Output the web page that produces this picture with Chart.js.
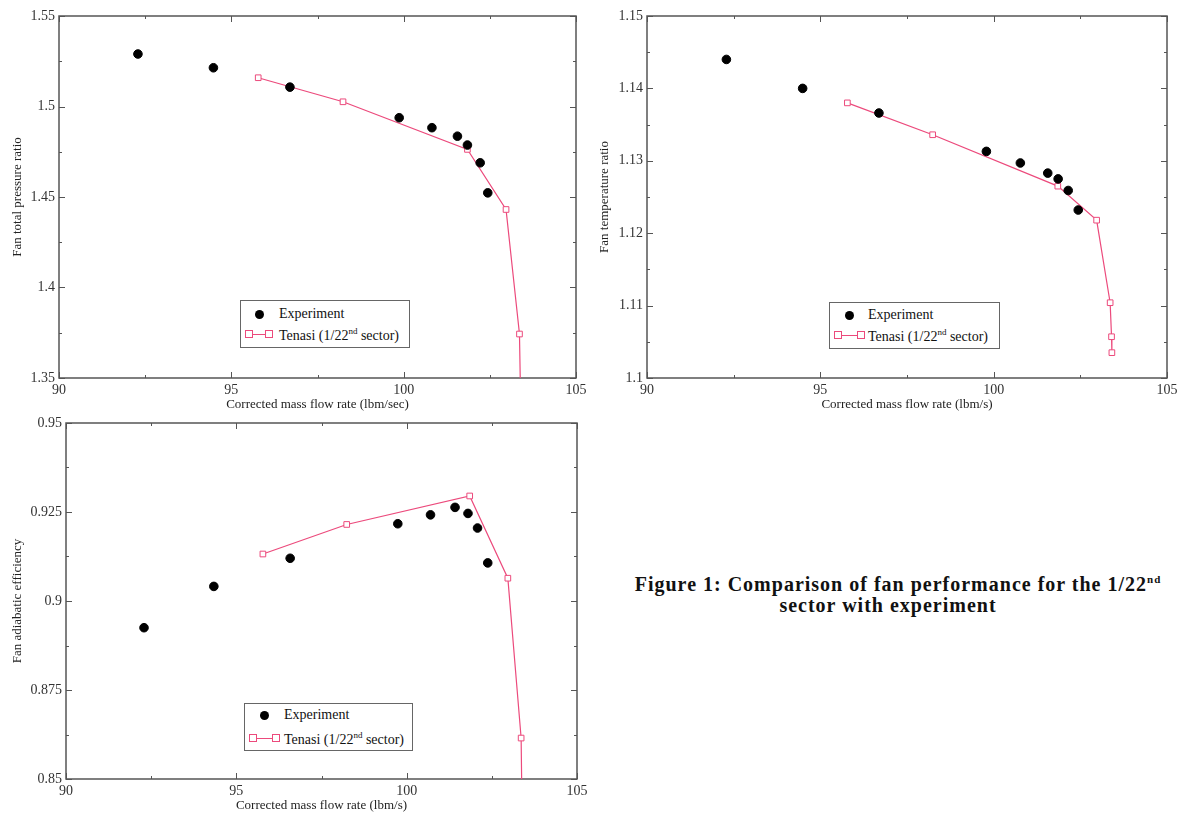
<!DOCTYPE html>
<html>
<head>
<meta charset="utf-8">
<script src="https://cdn.jsdelivr.net/npm/chart.js@4/dist/chart.umd.min.js"></script>
<style>
  body { margin: 0; background: #fff; width: 1181px; height: 814px; position: relative; overflow: hidden; }
  canvas { position: absolute; }
  .legend { position: absolute; border: 1px solid #666; background: #fff;
            font: 14px "Liberation Serif", "DejaVu Serif", serif; color: #111; }
  .legend span { position: absolute; white-space: nowrap; }
  .legend .dot { width: 9px; height: 9px; border-radius: 50%; background: #000; }
  .legend .sq { width: 6px; height: 6px; border: 1px solid #ec4a7c; background: #fff; }
  .legend .ln { height: 1px; background: #ec4a7c; }
  .legend sup { font-size: 9px; }
  #caption { position: absolute; left: 612px; top: 569px; width: 572px; text-align: center;
             font: bold 20px "Liberation Serif", "DejaVu Serif", serif; line-height: 21px;
             letter-spacing: 1px; color: #111; }
  #caption sup { font-size: 11px; }
</style>
</head>
<body>
<canvas id="c1" width="590" height="416" style="left:0;top:0"></canvas>
<canvas id="c2" width="591" height="416" style="left:590px;top:0"></canvas>
<canvas id="c3" width="590" height="400" style="left:0;top:414px"></canvas>

<div class="legend" style="left:240px;top:300px;width:168px;height:46px">
  <span class="dot" style="left:14px;top:9px"></span>
  <span style="left:38px;top:5px">Experiment</span>
  <span class="ln" style="left:11px;top:33px;width:18px"></span>
  <span class="sq" style="left:4px;top:29px"></span>
  <span class="sq" style="left:24px;top:29px"></span>
  <span style="left:38px;top:25px">Tenasi (1/22<sup>nd</sup> sector)</span>
</div>
<div class="legend" style="left:829px;top:302px;width:169px;height:45px">
  <span class="dot" style="left:15px;top:8px"></span>
  <span style="left:38px;top:4px">Experiment</span>
  <span class="ln" style="left:12px;top:32px;width:20px"></span>
  <span class="sq" style="left:4px;top:28px"></span>
  <span class="sq" style="left:27px;top:28px"></span>
  <span style="left:38px;top:24px">Tenasi (1/22<sup>nd</sup> sector)</span>
</div>
<div class="legend" style="left:244px;top:703px;width:167px;height:46px">
  <span class="dot" style="left:15px;top:7px"></span>
  <span style="left:39px;top:3px">Experiment</span>
  <span class="ln" style="left:11px;top:34px;width:22px"></span>
  <span class="sq" style="left:4px;top:30px"></span>
  <span class="sq" style="left:27px;top:30px"></span>
  <span style="left:39px;top:26px">Tenasi (1/22<sup>nd</sup> sector)</span>
</div>

<div id="caption">Figure 1: Comparison of fan performance for the 1/22<sup>nd</sup><br><span style="margin-right:20px">sector with experiment</span></div>

<script>
// experiment
const flowExpP = [92.29, 94.48, 96.70, 99.87, 100.82, 101.56, 101.85, 102.22, 102.44];
const pressureExp = [1.529, 1.5214, 1.5107, 1.4938, 1.4883, 1.4836, 1.4787, 1.4689, 1.4523];

const flowExpT = [92.29, 94.49, 96.69, 99.79, 100.77, 101.56, 101.86, 102.15, 102.44];
const tempExp = [1.1440, 1.1400, 1.1366, 1.1313, 1.1297, 1.1283, 1.1275, 1.1259, 1.1232];

const flowExpE = [92.29, 94.34, 96.58, 99.74, 100.70, 101.42, 101.80, 102.08, 102.38];
const effExp = [0.8925, 0.9041, 0.9120, 0.9217, 0.9242, 0.9263, 0.9246, 0.9205, 0.9107];

// Tenasi 1/22nd sector (last points fall below the first and third panels)
const flowTenasi = [95.78, 98.24, 101.85, 102.97, 103.36, 103.40, 103.41];
const pressureTenasi = [1.5159, 1.5026, 1.4763, 1.4431, 1.3743, 1.33, 1.31];
const tempTenasi = [1.1380, 1.1336, 1.1265, 1.1218, 1.1104, 1.1057, 1.1035];
const effTenasi = [0.9132, 0.9215, 0.9295, 0.9064, 0.8615, 0.83, 0.82];

const xTicks = { min: 90, max: 105, step: 5 };

const serif = '"Liberation Serif", "DejaVu Serif", serif';
const pink = '#ec4a7c';

function pts(xs, ys) {
  return xs.map((x, i) => ({ x: x, y: ys[i] }));
}

// tick labels like 1.5, 1.45, 0.875 (no padded zeros)
const plainNum = v => String(+Number(v).toFixed(4));

// xmgrace style frame with inward ticks on all four sides
const frameTicks = {
  id: 'frameTicks',
  beforeDatasetsDraw(chart) {
    const { ctx, chartArea: a, scales } = chart;
    ctx.save();
    ctx.strokeStyle = '#555';
    ctx.lineWidth = 1;
    const seg = (x1, y1, x2, y2) => { ctx.beginPath(); ctx.moveTo(x1, y1); ctx.lineTo(x2, y2); ctx.stroke(); };
    ['x', 'y'].forEach(id => {
      const s = scales[id];
      const step = s.options.ticks.stepSize;
      const n = Math.round((s.max - s.min) / (step / 2));
      for (let i = 0; i <= n; i++) {
        const v = s.min + i * step / 2;
        const len = i % 2 === 0 ? 6 : 3;
        const p = Math.round(s.getPixelForValue(v)) + 0.5;
        if (id === 'x') {
          seg(p, a.bottom, p, a.bottom - len);
          seg(p, a.top, p, a.top + len);
        } else {
          seg(a.left, p, a.left + len, p);
          seg(a.right, p, a.right - len, p);
        }
      }
    });
    ctx.lineWidth = 1.5;
    ctx.strokeRect(a.left, a.top, a.right - a.left, a.bottom - a.top);
    ctx.restore();
  }
};

function makeChart(id, cfg) {
  const ctx = document.getElementById(id).getContext('2d');
  return new Chart(ctx, {
    type: 'scatter',
    data: {
      datasets: [{
        label: 'Tenasi (1/22nd sector)',
        data: pts(flowTenasi, cfg.tenasi),
        showLine: true,
        borderColor: pink,
        borderWidth: 1.2,
        pointStyle: 'rect',
        pointRadius: 4,
        pointBorderWidth: 1,
        pointBorderColor: pink,
        pointBackgroundColor: '#fff',
        order: 2
      }, {
        label: 'Experiment',
        data: pts(cfg.flowExp, cfg.exp),
        showLine: false,
        pointRadius: 4.3,
        pointBackgroundColor: '#000',
        pointBorderColor: '#000',
        order: 1
      }]
    },
    options: {
      responsive: false,
      animation: false,
      devicePixelRatio: 1,
      layout: { padding: cfg.padding },
      plugins: { legend: { display: false }, tooltip: { enabled: false } },
      scales: {
        x: {
          type: 'linear',
          min: xTicks.min, max: xTicks.max,
          ticks: { stepSize: xTicks.step, padding: 4, maxRotation: 0, color: '#333', font: { family: serif, size: 14 }, callback: plainNum },
          grid: { display: false, drawTicks: false },
          border: { display: false },
          title: { display: true, text: cfg.xTitle, color: '#222', padding: { top: 0, bottom: cfg.xTitlePad }, font: { family: serif, size: 13 } },
          afterFit(s) { s.height = cfg.xHeight; s.paddingLeft = 0; s.paddingRight = 0; }
        },
        y: {
          min: cfg.yMin, max: cfg.yMax,
          ticks: { stepSize: cfg.yStep, padding: 4, color: '#333', font: { family: serif, size: 14 }, callback: plainNum },
          grid: { display: false, drawTicks: false },
          border: { display: false },
          title: { display: true, text: cfg.yTitle, color: '#222', padding: { top: cfg.yTitlePad, bottom: 0 }, font: { family: serif, size: 13 } },
          afterFit(s) { s.width = cfg.yWidth; s.paddingTop = 0; s.paddingBottom = 0; }
        }
      }
    },
    plugins: [frameTicks]
  });
}

makeChart('c1', {
  flowExp: flowExpP, exp: pressureExp, tenasi: pressureTenasi,
  yMin: 1.35, yMax: 1.55, yStep: 0.05,
  yTitle: 'Fan total pressure ratio', xTitle: 'Corrected mass flow rate (lbm/sec)',
  padding: { top: 16, right: 14, bottom: 4, left: 0 },
  yWidth: 59, xHeight: 34, yTitlePad: 10, xTitlePad: 0
});

makeChart('c2', {
  flowExp: flowExpT, exp: tempExp, tenasi: tempTenasi,
  yMin: 1.10, yMax: 1.15, yStep: 0.01,
  yTitle: 'Fan temperature ratio', xTitle: 'Corrected mass flow rate (lbm/s)',
  padding: { top: 16, right: 14, bottom: 4, left: 0 },
  yWidth: 57, xHeight: 34, yTitlePad: 7, xTitlePad: 0
});

makeChart('c3', {
  flowExp: flowExpE, exp: effExp, tenasi: effTenasi,
  yMin: 0.85, yMax: 0.95, yStep: 0.025,
  yTitle: 'Fan adiabatic efficiency', xTitle: 'Corrected mass flow rate (lbm/s)',
  padding: { top: 9, right: 13, bottom: 1, left: 0 },
  yWidth: 66, xHeight: 34, yTitlePad: 10, xTitlePad: 0
});
</script>
</body>
</html>
